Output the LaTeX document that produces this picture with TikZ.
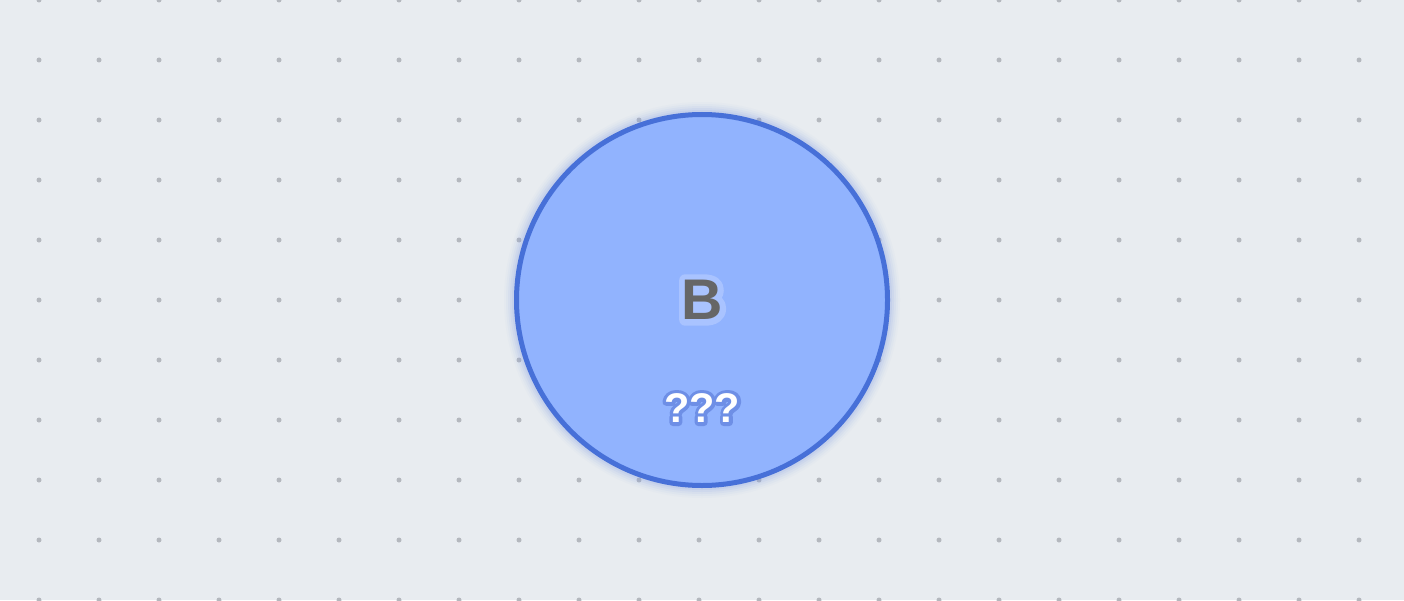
\documentclass[tikz,border=0pt]{standalone}
\usepackage{fontspec}
\setmainfont{Liberation Sans}
\usepackage{tikz}
\usetikzlibrary{positioning}
\definecolor{canvas}{HTML}{E8ECF0}
\definecolor{griddot}{HTML}{B4B8BE}
\definecolor{bubblefill}{HTML}{91B3FE}
\definecolor{bubbleedge}{HTML}{4770D8}
\definecolor{glow}{HTML}{7D9BEA}
\definecolor{inkgray}{HTML}{666666}
\definecolor{halo}{HTML}{A9C3FF}
\definecolor{qedge}{HTML}{6E8FE6}
% glyphs laid over a stroked copy of themselves (a rim round each letter)
\newcommand\rimtext[3]{%
  \rlap{\color{#1}\special{pdf:literal direct #2 w 1 j 2 Tr}#3\special{pdf:literal direct 0 Tr}}#3}
\tikzset{
  dotmark/.style ={fill=griddot,draw=none},
  bubble/.style  ={circle,draw=bubbleedge,line width=0.05cm,fill=bubblefill,
                   minimum size=3.71cm,inner sep=0pt},
  letter/.style  ={font=\fontsize{16.3pt}{18pt}\selectfont\bfseries,text=inkgray,inner sep=0pt},
  unknown/.style ={font=\fontsize{11.8pt}{13pt}\selectfont\bfseries,text=white,inner sep=0pt}
}

\begin{document}
\begin{tikzpicture}
    \useasboundingbox (0,0) rectangle (14.04,6);
    \fill[canvas] (0,0) rectangle (14.04,6);
    % dot grid
    \foreach \i in {0,...,22}{
      \foreach \j in {0,...,10}{
        \fill[dotmark] (0.39+0.6*\i,6-0.6*\j) circle (0.025);
      }
    }
    % soft glow round the bubble
    \foreach \r/\o in {1.98/0.03,1.96/0.05,1.94/0.07,1.92/0.09,1.90/0.12}{
      \fill[glow,opacity=\o] (7.02,3) circle (\r);
    }
    \node[bubble] (bnode) at (7.02,3) {};
    \node[letter] (bname) at (bnode.center) {\rimtext{halo}{3.4}{B}};
    \node[unknown,below=1.08cm of bnode.center,anchor=center] (bstate)
      {\rimtext{qedge}{2}{???}};
\end{tikzpicture}
\end{document}
